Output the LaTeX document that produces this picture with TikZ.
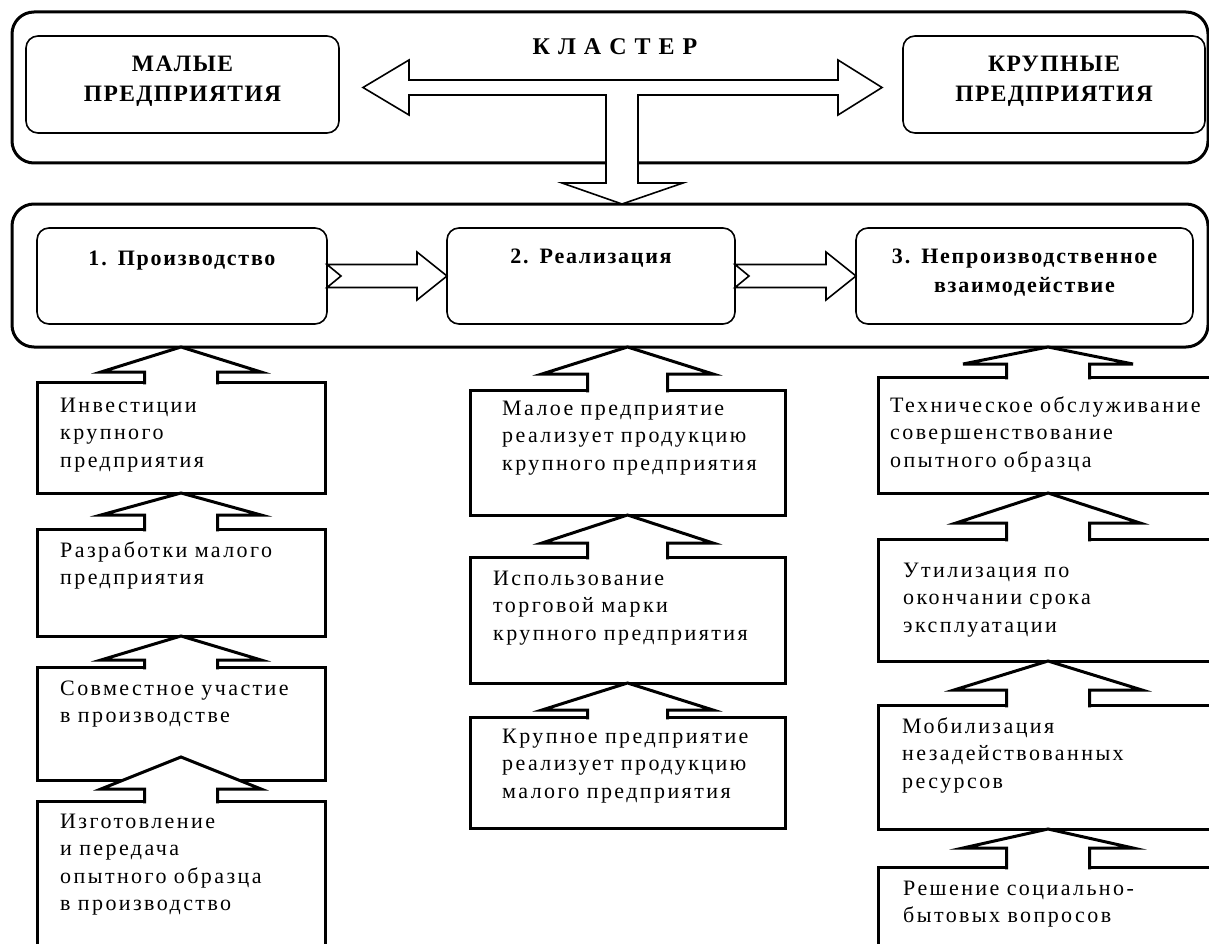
\documentclass[tikz,border=0pt]{standalone}
\usepackage{fontspec}
\setmainfont{Liberation Serif}
\newfontfamily\unitfont[LetterSpace=11,WordSpace=2]{Liberation Serif}
\newfontfamily\clusterfont[LetterSpace=8,WordSpace=1.3]{Liberation Serif}
\usetikzlibrary{calc}

\begin{document}
\begin{tikzpicture}[x=1pt,y=-1pt,
  frame/.style={draw,line width=3pt,rounded corners=22pt,inner sep=0pt,outer sep=0pt},
  firm/.style={draw,line width=1.6pt,rounded corners=12pt,inner sep=0pt,outer sep=0pt},
  unitbox/.style={draw,line width=3pt,inner sep=0pt,outer sep=0pt},
  firm text/.style={font=\fontsize{23.5}{30}\selectfont\bfseries\addfontfeature{LetterSpace=6},
    text width=300pt,align=center,anchor=base,inner sep=0pt},
  stage text/.style={font=\fontsize{22}{29}\selectfont\bfseries\addfontfeature{LetterSpace=8},
    text width=330pt,align=center,anchor=base,inner sep=0pt},
  unit text/.style={font=\unitfont\fontsize{22}{27.5}\selectfont,
    text width=340pt,align=left,anchor=base west,inner sep=0pt},
  block/.style={draw,fill=white,line width=1.6pt,line join=miter},
  lift/.style={draw,fill=white,line width=3pt,line join=miter}]

  \useasboundingbox (0,0) rectangle (1209,944);
  \clip (0,0) rectangle (1209,944);

  % cluster
  \node[frame,minimum width=1196pt,minimum height=151pt] (cluster) at (610,87.5) {};
  \node[firm,minimum width=313pt,minimum height=97pt] (small) at (182.5,84.5) {};
  \node[firm,minimum width=302pt,minimum height=97pt] (big) at (1054,84.5) {};
  \node[firm text] (small text) at (182.5,72) {МАЛЫЕ\\ПРЕДПРИЯТИЯ};
  \node[firm text] (big text) at (1054,72) {КРУПНЫЕ\\ПРЕДПРИЯТИЯ};
  \node[stage text,font=\clusterfont\fontsize{24}{29}\selectfont\bfseries]
    (cluster text) at (615,55) {К Л А С Т Е Р};

  % stages
  \node[frame,minimum width=1196pt,minimum height=143pt] (stages) at (610,275.5) {};
  \node[firm,minimum width=290pt,minimum height=96pt] (prod) at (182,276) {};
  \node[firm,minimum width=288pt,minimum height=96pt] (real) at (591,276) {};
  \node[firm,minimum width=337pt,minimum height=96pt] (nonprod) at (1024.5,276) {};
  \node[stage text] (prod text) at (182,265) {1. Производство};
  \node[stage text] (real text) at (591,263) {2. Реализация};
  \node[stage text] (nonprod text) at (1024.5,263) {3. Непроизводственное\\взаимодействие};

  % forms of cooperation
  \node[unitbox,minimum width=288pt,minimum height=111pt] (inv) at (181,437.5) {};
  \node[unitbox,minimum width=288pt,minimum height=107pt] (dev) at (181,582.5) {};
  \node[unitbox,minimum width=288pt,minimum height=113pt] (joint) at (181,723.5) {};
  \node[unitbox,minimum width=288pt,minimum height=199pt] (proto) at (181,900.5) {};
  \node[unitbox,minimum width=315pt,minimum height=125pt] (sellbig) at (627.5,452.5) {};
  \node[unitbox,minimum width=315pt,minimum height=126pt] (brand) at (627.5,620) {};
  \node[unitbox,minimum width=315pt,minimum height=111pt] (sellsmall) at (627.5,772.5) {};
  \node[unitbox,minimum width=340pt,minimum height=116pt] (service) at (1048,435) {};
  \node[unitbox,minimum width=340pt,minimum height=122pt] (recycle) at (1048,600) {};
  \node[unitbox,minimum width=340pt,minimum height=124pt] (mobil) at (1048,767) {};
  \node[unitbox,minimum width=340pt,minimum height=133pt] (social) at (1048,933.5) {};

  \node[unit text] (inv text) at (60,412) {Инвестиции\\крупного\\предприятия};
  \node[unit text] (dev text) at (60,557) {Разработки малого\\предприятия};
  \node[unit text] (joint text) at (60,695) {Совместное участие\\в производстве};
  \node[unit text] (proto text) at (60,828) {Изготовление\\и передача\\опытного образца\\в производство};
  \node[unit text] (sellbig text) at (502,415) {Малое предприятие\\реализует продукцию\\крупного предприятия};
  \node[unit text] (brand text) at (493,585) {Использование\\торговой марки\\крупного предприятия};
  \node[unit text] (sellsmall text) at (502,743) {Крупное предприятие\\реализует продукцию\\малого предприятия};
  \node[unit text] (service text) at (890,412) {Техническое обслуживание\\совершенствование\\опытного образца};
  \node[unit text] (recycle text) at (903,577) {Утилизация по\\окончании срока\\эксплуатации};
  \node[unit text] (mobil text) at (902,733) {Мобилизация\\незадействованных\\ресурсов};
  \node[unit text] (social text) at (903,895) {Решение социально-\\бытовых вопросов};

  % arrows
  \coordinate (ltip) at ($(small.east)+(24,3)$);
  \coordinate (rtip) at ($(big.west)+(-21,3)$);
  \coordinate (dtip) at ($(stages.north)+(12,0)$);
  \draw[block] (ltip) -- (409,60) -- (409,80) -- (838,80) -- (838,60) -- (rtip)
    -- (838,115) -- (838,95) -- (638,95) -- (638,183) -- (683,183) -- (dtip)
    -- (562,183) -- (606,183) -- (606,95) -- (409,95) -- (409,115) -- cycle;

  \foreach \a/\b in {prod/real,real/nonprod}
    \draw[block] ($(\a.east)+(0,-11.5)$) -- ($(\b.west)+(-30,-11.5)$) -- ($(\b.west)+(-30,-24)$)
      -- (\b.west) -- ($(\b.west)+(-30,24)$) -- ($(\b.west)+(-30,11.5)$)
      -- ($(\a.east)+(0,11.5)$) -- ($(\a.east)+(14,0)$) -- cycle;

  \foreach \lo/\tip/\rise/\dd/\hw/\sh in {
      inv/stages.south/0/25/80/36.5, dev/inv.south/0/22/80/36.5,
      joint/dev.south/0/24/80/36.5, proto/joint.south/23/32/80/36.5,
      sellbig/stages.south/0/27/85.5/40, brand/sellbig.south/0/28/85.5/40,
      sellsmall/brand.south/0/27/85.5/40,
      service/stages.south/0/17/85/41.5, recycle/service.south/0/30/92/41.5,
      mobil/recycle.south/0/29/94/41.5, social/mobil.south/0/19/85/41.5}
  {
    \coordinate (apex) at ($(\lo.north |- \tip)+(0,-\rise)$);
    \draw[lift] ($(\lo.north)+(-\sh,2.3)$) -- ($(apex)+(-\sh,\dd)$) -- ($(apex)+(-\hw,\dd)$)
      -- (apex) -- ($(apex)+(\hw,\dd)$) -- ($(apex)+(\sh,\dd)$) -- ($(\lo.north)+(\sh,2.3)$);
  }
\end{tikzpicture}
\end{document}
